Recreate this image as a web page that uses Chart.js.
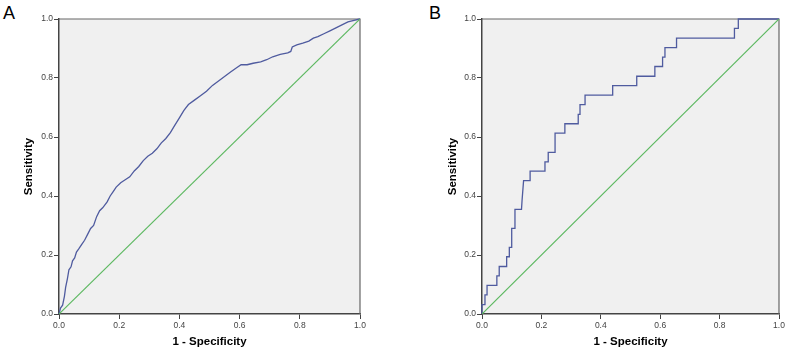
<!DOCTYPE html>
<html>
<head>
<meta charset="utf-8">
<script src="https://cdn.jsdelivr.net/npm/chart.js@4/dist/chart.umd.min.js"></script>
<style>
  body { margin: 0; background: #fff; width: 788px; height: 354px; position: relative; overflow: hidden;
         font-family: "Liberation Sans", Arial, sans-serif; }
  .panel { position: absolute; top: 0; width: 394px; height: 354px; }
  .letter { position: absolute; top: 4px; font-size: 18px; line-height: 18px; color: #000; }
</style>
</head>
<body>
<div class="letter" style="left:3px">A</div>
<div class="letter" style="left:429px">B</div>
<canvas id="chartA" class="panel" style="left:0" width="394" height="354"></canvas>
<canvas id="chartB" class="panel" style="left:394px" width="394" height="354"></canvas>
<script>
// Tick labels
const tickValues = [0.0, 0.2, 0.4, 0.6, 0.8, 1.0];

// Reference line
const diagX = [0, 1];
const diagY = [0, 1];

// Panel A ROC curve (1 - specificity, sensitivity)
const fprA = [0, 0.005, 0.012, 0.018, 0.022, 0.028, 0.033, 0.04, 0.045, 0.052, 0.058, 0.065, 0.075, 0.085,
  0.095, 0.105, 0.115, 0.125, 0.135, 0.145, 0.16, 0.17, 0.18, 0.19, 0.205, 0.22, 0.235, 0.25, 0.265, 0.28,
  0.295, 0.31, 0.325, 0.34, 0.355, 0.37, 0.385, 0.40, 0.415, 0.43, 0.45, 0.47, 0.49, 0.51, 0.53, 0.55,
  0.57, 0.59, 0.605, 0.625, 0.645, 0.67, 0.69, 0.71, 0.735, 0.76, 0.77, 0.775, 0.79, 0.81, 0.83, 0.845,
  0.86, 0.88, 0.9, 0.92, 0.94, 0.96, 0.98, 1];
const tprA = [0, 0.02, 0.03, 0.06, 0.09, 0.12, 0.15, 0.16, 0.18, 0.19, 0.21, 0.22, 0.235, 0.25,
  0.27, 0.29, 0.30, 0.33, 0.35, 0.36, 0.38, 0.40, 0.415, 0.43, 0.445, 0.455, 0.465, 0.485, 0.50, 0.52,
  0.535, 0.545, 0.56, 0.58, 0.595, 0.615, 0.64, 0.665, 0.69, 0.71, 0.725, 0.74, 0.755, 0.775, 0.79, 0.805,
  0.82, 0.835, 0.845, 0.845, 0.85, 0.855, 0.862, 0.872, 0.88, 0.885, 0.89, 0.905, 0.912, 0.918, 0.925, 0.935,
  0.94, 0.95, 0.96, 0.97, 0.98, 0.99, 0.995, 1];

// Panel B ROC curve, corner points of the steps
const fprB = [0, 0, 0.01, 0.01, 0.017, 0.017, 0.05, 0.05, 0.058, 0.058, 0.083, 0.083, 0.092, 0.092, 0.1, 0.1,
  0.111, 0.111, 0.133, 0.135, 0.14, 0.162, 0.162, 0.212, 0.212, 0.223, 0.223, 0.246, 0.246, 0.279, 0.279,
  0.324, 0.324, 0.33, 0.33, 0.347, 0.347, 0.44, 0.44, 0.521, 0.521, 0.582, 0.582, 0.608, 0.608, 0.616, 0.616,
  0.655, 0.655, 0.85, 0.85, 0.863, 0.863, 1];
const tprB = [0, 0.032, 0.032, 0.065, 0.065, 0.097, 0.097, 0.129, 0.129, 0.161, 0.161, 0.194, 0.194, 0.226, 0.226, 0.29,
  0.29, 0.355, 0.355, 0.387, 0.452, 0.452, 0.484, 0.484, 0.516, 0.516, 0.548, 0.548, 0.613, 0.613, 0.645,
  0.645, 0.677, 0.677, 0.71, 0.71, 0.742, 0.742, 0.774, 0.774, 0.806, 0.806, 0.839, 0.839, 0.871, 0.871, 0.903,
  0.903, 0.935, 0.935, 0.968, 0.968, 1, 1];

const toPoints = (xs, ys) => xs.map((x, i) => ({ x: x, y: ys[i] }));

// Grey plot background and the top/right frame
const framePlugin = {
  id: 'frame',
  beforeDraw(chart) {
    const { ctx, chartArea: a } = chart;
    ctx.save();
    ctx.fillStyle = '#f0f0f0';
    ctx.fillRect(a.left, a.top, a.right - a.left, a.bottom - a.top);
    ctx.restore();
  },
  beforeDatasetsDraw(chart) {
    const { ctx, chartArea: a } = chart;
    ctx.save();
    ctx.strokeStyle = '#666';
    ctx.lineWidth = 1.2;
    ctx.beginPath();
    ctx.moveTo(a.left, a.top);
    ctx.lineTo(a.right, a.top);
    ctx.lineTo(a.right, a.bottom);
    ctx.stroke();
    ctx.restore();
  }
};

function makeChart(id, fpr, tpr, yWidth, yTitlePad, padRight) {
  const axisGrid = { drawOnChartArea: false, drawTicks: true, tickLength: 5, color: '#444', lineWidth: 1 };
  const tickFont = { family: '"Liberation Sans", Arial, sans-serif', size: 8.5 };
  const titleFont = { family: '"Liberation Sans", Arial, sans-serif', size: 11.5, weight: 'bold' };
  return new Chart(document.getElementById(id), {
    type: 'line',
    data: {
      datasets: [
        { data: toPoints(diagX, diagY), borderColor: '#5cb860', borderWidth: 1.2, pointRadius: 0, tension: 0 },
        { data: toPoints(fpr, tpr), borderColor: '#4f5b9f', borderWidth: 1.3, pointRadius: 0, tension: 0, clip: 4 }
      ]
    },
    options: {
      responsive: false,
      animation: false,
      devicePixelRatio: 1,
      layout: { padding: { left: 0, top: 19, right: padRight, bottom: 0 } },
      plugins: { legend: { display: false }, tooltip: { enabled: false } },
      scales: {
        x: {
          type: 'linear', min: 0, max: 1,
          afterFit: s => { s.height = 40; },
          afterBuildTicks: s => { s.ticks = tickValues.map(v => ({ value: v })); },
          grid: axisGrid,
          border: { color: '#444', width: 1.5 },
          ticks: { font: tickFont, color: '#444', padding: 2, maxRotation: 0, callback: v => v.toFixed(1) },
          title: { display: true, text: '1 - Specificity', font: titleFont, color: '#000', padding: { top: 0, bottom: 5 } }
        },
        y: {
          type: 'linear', min: 0, max: 1,
          afterFit: s => { s.width = yWidth; },
          afterBuildTicks: s => { s.ticks = tickValues.map(v => ({ value: v })); },
          grid: axisGrid,
          border: { color: '#444', width: 1.5 },
          ticks: { font: tickFont, color: '#444', padding: 1, callback: v => v.toFixed(1) },
          title: { display: true, text: 'Sensitivity', font: titleFont, color: '#000', padding: { top: yTitlePad, bottom: 0 } }
        }
      }
    },
    plugins: [framePlugin]
  });
}

makeChart('chartA', fprA, tprA, 59, 21.5, 34);
makeChart('chartB', fprB, tprB, 88, 51.5, 9);
</script>
</body>
</html>
